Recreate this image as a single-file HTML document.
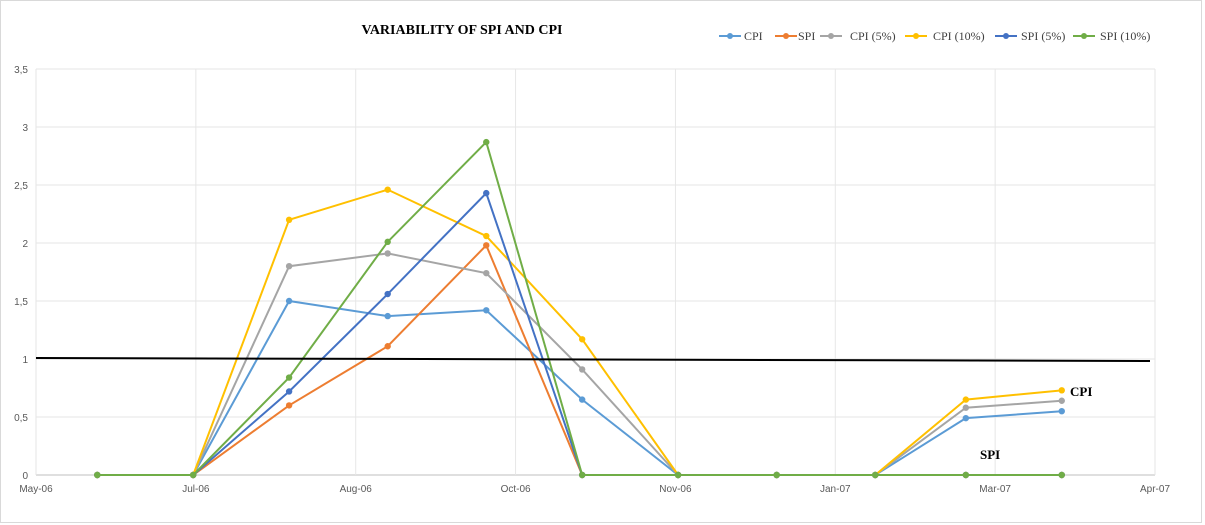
<!DOCTYPE html>
<html><head><meta charset="utf-8"><style>
body{margin:0;background:#fff;}
svg{display:block;font-family:"Liberation Sans",sans-serif;}
</style></head><body>
<svg width="1205" height="525">
<rect x="0.5" y="0.5" width="1201" height="522" fill="#fff" stroke="#d9d9d9"/>
<text x="462" y="34" text-anchor="middle" font-family="Liberation Serif,serif" font-weight="bold" font-size="14">VARIABILITY  OF SPI AND CPI</text>
<g id="grid"></g><g id="legend"></g><g id="series"></g>
<line x1="36" y1="358" x2="1150" y2="361" stroke="#000" stroke-width="2"/>
<text x="1070" y="396" font-family="Liberation Serif,serif" font-weight="bold" font-size="13">CPI</text>
<text x="980" y="459" font-family="Liberation Serif,serif" font-weight="bold" font-size="13">SPI</text>
</svg>
<script>
const xTickDays=[0,60,120,180,240,300,360,420];
const xTickLabels=["May-06","Jul-06","Aug-06","Oct-06","Nov-06","Jan-07","Mar-07","Apr-07"];
const yTicks=[0,0.5,1,1.5,2,2.5,3,3.5];
const yTickLabels=["0","0,5","1","1,5","2","2,5","3","3,5"];
const pointDays=[23,59,95,132,169,205,241,278,315,349,385];
const seriesNames=["CPI","SPI","CPI (5%)","CPI (10%)","SPI (5%)","SPI (10%)"];
const seriesColors=["#5B9BD5","#ED7D31","#A5A5A5","#FFC000","#4472C4","#70AD47"];
const cpi=[0,0,1.5,1.37,1.42,0.65,0,0,0,0.49,0.55];
const spi=[0,0,0.6,1.11,1.98,0,0,0,0,0,0];
const cpi5=[0,0,1.8,1.91,1.74,0.91,0,0,0,0.58,0.64];
const cpi10=[0,0,2.2,2.46,2.06,1.17,0,0,0,0.65,0.73];
const spi5=[0,0,0.72,1.56,2.43,0,0,0,0,0,0];
const spi10=[0,0,0.84,2.01,2.87,0,0,0,0,0,0];
const allSeries=[cpi,spi,cpi5,cpi10,spi5,spi10];
const NS="http://www.w3.org/2000/svg";
const X=d=>36+(d/420)*(1155-36);
const Y=v=>475-v*116;
function mk(t,a,p){const e=document.createElementNS(NS,t);for(const k in a)e.setAttribute(k,a[k]);p.appendChild(e);return e;}
const grid=document.getElementById('grid');
yTicks.forEach((v,i)=>{
 const l=mk('line',{x1:36,x2:1155,y1:Y(v),y2:Y(v),stroke:i==0?'#bfbfbf':'#e6e6e6'},grid);
 
 
 const t=mk('text',{x:28,y:Y(v)+4,'text-anchor':'end','font-size':10,fill:'#595959'},grid);t.textContent=yTickLabels[i];
 
 
});
xTickDays.forEach((d,i)=>{
 const l=mk('line',{x1:X(d),x2:X(d),y1:Y(3.5),y2:Y(0),stroke:'#e6e6e6'},grid);
 
 
 const t=mk('text',{x:X(d),y:492,'text-anchor':'middle','font-size':10,fill:'#595959'},grid);t.textContent=xTickLabels[i];
 
 
});
const sg=document.getElementById('series');
allSeries.forEach((s,k)=>{
 const g=mk('g',{},sg);
 
 
 mk('polyline',{points:s.map((v,i)=>X(pointDays[i])+','+Y(v)).join(' '),fill:'none',stroke:seriesColors[k],'stroke-width':2},g);
 s.forEach((v,i)=>{const c=mk('circle',{cx:X(pointDays[i]),cy:Y(v),r:3.2,fill:seriesColors[k]},g);
  
  });
});
const lg=document.getElementById('legend');
const legX=[719,775,820,905,995,1073];
const legTextX=[744,798,850,933,1021,1100];
seriesNames.forEach((n,k)=>{
 const g=mk('g',{},lg);
 
 
 const x=legX[k];
 mk('line',{x1:x,x2:x+22,y1:36,y2:36,stroke:seriesColors[k],'stroke-width':2},g);
 mk('circle',{cx:x+11,cy:36,r:3,fill:seriesColors[k]},g);
 const t=mk('text',{x:legTextX[k],y:40,'font-size':12,'font-family':'Liberation Serif,serif',fill:'#404040'},g);t.textContent=n;
});
</script>
</body></html>
